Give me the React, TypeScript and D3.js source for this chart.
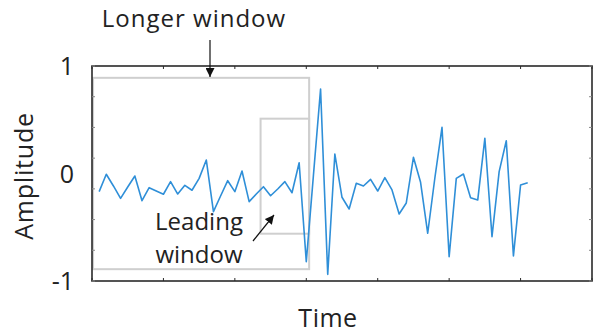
import React from "react";
import * as d3 from "d3";

const timeIndex: number[] = d3.range(1, 62);
const amplitude: number[] = [
  -0.169, -0.007, -0.116, -0.231, -0.126, -0.023, -0.253, -0.132, -0.163, -0.193,
  -0.076, -0.191, -0.110, -0.156, -0.045, 0.126, -0.355, -0.209, -0.067, -0.169,
  0.023, -0.262, -0.191, -0.123, -0.207, -0.144, -0.076, -0.179, 0.100, -0.820,
  -0.017, 0.786, -0.938, 0.181, -0.221, -0.330, -0.091, -0.116, -0.054, -0.163,
  -0.039, -0.153, -0.377, -0.274, 0.151, -0.082, -0.556, -0.042, 0.430, -0.774,
  -0.045, -0.005, -0.225, -0.247, 0.327, -0.588, 0.017, 0.305, -0.767, -0.107,
  -0.086,
];
const yTickLabels: string[] = ["1", "0", "-1"];
const yTickValues: number[] = [1, 0, -1];
const xTickValues: number[] = d3.range(0, 71, 10);
const yMinorTicks: number[] = d3.range(8).map((k) => -1 + (2 * k) / 7);
// windows in data units: [t0, t1, yTop, yBottom]
const longerWindow: number[] = [0.15, 30.4, 0.89, -0.89];
const leadingWindow: number[] = [23.6, 30.4, 0.51, -0.56];

const W = 593;
const H = 335;
const FONT = "'Open Sans', 'DejaVu Sans', sans-serif";

export default function App() {
  const x = d3.scaleLinear().domain([0, 70]).range([92, 592]);
  const y = d3.scaleLinear().domain([-1, 1]).range([281, 66]);
  const line = d3
    .line<number>()
    .x((_, i) => x(timeIndex[i]))
    .y((d) => y(d));

  const rectOf = (w: number[]) => ({
    x: x(w[0]),
    y: y(w[2]),
    width: x(w[1]) - x(w[0]),
    height: y(w[3]) - y(w[2]),
  });
  const lw = rectOf(longerWindow);
  const ldw = rectOf(leadingWindow);

  return (
    <svg
      width={W}
      height={H}
      style={{ position: "absolute", left: 0, top: 0, background: "#fff" }}
    >
      <defs>
        <marker
          id="ah"
          viewBox="0 0 10 10"
          refX="10"
          refY="5"
          markerWidth="9"
          markerHeight="9"
          markerUnits="userSpaceOnUse"
          orient="auto"
        >
          <path d="M0,0 L10,5 L0,10 z" fill="#111" />
        </marker>
      </defs>

      {/* windows */}
      <rect {...lw} fill="none" stroke="#cfcfcf" strokeWidth={2} />
      <rect {...ldw} fill="none" stroke="#cfcfcf" strokeWidth={2} />

      {/* signal */}
      <path
        d={line(amplitude) || ""}
        fill="none"
        stroke="#2f8fd8"
        strokeWidth={1.6}
        strokeLinejoin="round"
      />

      {/* frame */}
      <rect
        x={x(0)}
        y={y(1)}
        width={x(70) - x(0)}
        height={y(-1) - y(1)}
        fill="none"
        stroke="#2a2a2a"
        strokeWidth={1.6}
      />
      {xTickValues.map((t) => (
        <g key={"xt" + t} stroke="#2a2a2a" strokeWidth={1}>
          <line x1={x(t)} x2={x(t)} y1={y(1)} y2={y(1) + 3} />
          <line x1={x(t)} x2={x(t)} y1={y(-1)} y2={y(-1) - 3} />
        </g>
      ))}
      {yMinorTicks.map((t, i) => (
        <g key={"yt" + i} stroke="#888" strokeWidth={1}>
          <line x1={x(0)} x2={x(0) + 3} y1={y(t)} y2={y(t)} />
          <line x1={x(70)} x2={x(70) - 3} y1={y(t)} y2={y(t)} />
        </g>
      ))}

      {/* y tick labels */}
      {yTickValues.map((v, i) => (
        <text
          key={"yl" + i}
          x={74}
          y={y(v) + 9}
          textAnchor="end"
          fontFamily={FONT}
          fontSize={25}
          fill="#222"
        >
          {yTickLabels[i]}
        </text>
      ))}

      {/* axis titles */}
      <text
        x={328}
        y={327}
        textAnchor="middle"
        fontFamily={FONT}
        fontSize={25}
        letterSpacing={0.5}
        fill="#222"
      >
        Time
      </text>
      <text
        transform={`translate(33,176) rotate(-90)`}
        textAnchor="middle"
        fontFamily={FONT}
        fontSize={25}
        letterSpacing={0.8}
        fill="#222"
      >
        Amplitude
      </text>

      {/* annotations */}
      <text
        x={194}
        y={27}
        textAnchor="middle"
        fontFamily={FONT}
        fontSize={24}
        letterSpacing={1}
        fill="#222"
      >
        Longer window
      </text>
      <line
        x1={210}
        y1={40}
        x2={210}
        y2={77}
        stroke="#111"
        strokeWidth={1.2}
        markerEnd="url(#ah)"
      />
      <text
        x={199}
        y={230}
        textAnchor="middle"
        fontFamily={FONT}
        fontSize={24}
        fill="#222"
      >
        Leading
      </text>
      <text
        x={199}
        y={263}
        textAnchor="middle"
        fontFamily={FONT}
        fontSize={24}
        fill="#222"
      >
        window
      </text>
      <line
        x1={253}
        y1={241}
        x2={274}
        y2={215}
        stroke="#111"
        strokeWidth={1.2}
        markerEnd="url(#ah)"
      />
    </svg>
  );
}
